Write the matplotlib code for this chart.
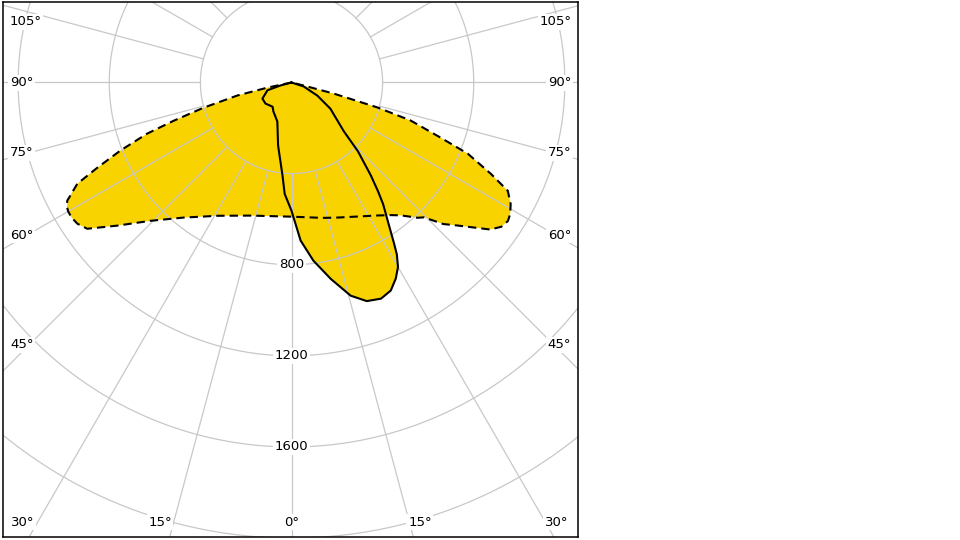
import numpy as np
import matplotlib.pyplot as plt

# luminous intensity (cd), angle in degrees from nadir; negative = left half
c0_angle = [-90, -75, -72, -61, -51, -38, -32, -20, -12, -5.5, -3.5, 0,
            3.3, 7, 11.3, 15.5, 19, 22.5, 25.5, 28, 30, 31.5, 32.5, 34.5, 37,
            38.5, 40.5, 44, 47, 56, 63, 72, 90]
c0_cd = [0, 50, 111, 146, 147, 135, 150, 182, 283, 411, 490, 563,
         695, 788, 879, 971, 1015, 1027, 1012, 975, 935, 885, 838, 752, 668,
         610, 536, 420, 314, 206, 128, 56, 0]

c90_angle = [-90, -78, -76.5, -74, -72, -70.5, -68.3, -66.3, -64.7, -62.2, -61,
             -60, -58.5, -56.6, -54.4, -50.6, -45.6, -38.7, -29, -17, 0, 13, 19,
             33, 37, 39.5, 43, 44.5, 47, 49.3, 53.5, 55.5, 57.4, 59, 61, 63.4,
             65.4, 68, 69.7, 72.3, 73.8, 75.3, 76, 90]
c90_cd = [0, 108, 244, 402, 545, 672, 809, 931, 1040, 1113, 1127,
          1132, 1133, 1126, 1103, 990, 868, 760, 669, 611, 589, 610, 627,
          696, 729, 756, 812, 830, 911, 963, 1085, 1118, 1128, 1120, 1100, 1062,
          962, 835, 698, 549, 394, 191, 54, 0]

rings = [400, 800, 1200, 1600, 2000, 2400]
ring_labels = ['800', '1200', '1600']
spokes = np.arange(-180, 181, 15)

side_labels = ['105°', '90°', '75°', '60°', '45°']
side_y = [0.963, 0.849, 0.718, 0.564, 0.359]
bottom_labels = ['30°', '15°', '0°', '15°', '30°']
bottom_x = [0.035, 0.273, 0.502, 0.725, 0.963]

yellow = '#F9D300'
grey = '#c8c8c8'


def to_xy(angle, cd):
    g = np.radians(angle)
    cd = np.asarray(cd, dtype=float)
    return cd * np.sin(g), -cd * np.cos(g)


fig = plt.figure(figsize=(9.6, 5.4), dpi=100)
ax = fig.add_axes([3 / 960, 3 / 540, 575 / 960, 535 / 540])

x0, y0 = to_xy(c0_angle, c0_cd)
x90, y90 = to_xy(c90_angle, c90_cd)
ax.fill(x90, y90, color=yellow, lw=0, zorder=1)
ax.fill(x0, y0, color=yellow, lw=0, zorder=1)

t = np.linspace(0, 2 * np.pi, 721)
for r in rings:
    ax.plot(r * np.cos(t), r * np.sin(t), color=grey, lw=0.9, zorder=2)
for a in spokes:
    g = np.radians(a)
    ax.plot([400 * np.sin(g), 3000 * np.sin(g)], [-400 * np.cos(g), -3000 * np.cos(g)],
            color=grey, lw=0.9, zorder=2)

ax.plot(x90, y90, color='black', lw=1.5, ls=(0, (4, 2.4)), zorder=4,
        solid_joinstyle='round')
ax.plot(x0, y0, color='black', lw=1.5, zorder=4, solid_joinstyle='round')

fs = 9.5
box = dict(boxstyle='square,pad=0.12', fc='white', ec='none')
for lab in ring_labels:
    ax.text(0, -float(lab), lab, ha='center', va='center', fontsize=fs,
            bbox=box, zorder=3)
for lab, yy in zip(side_labels, side_y):
    ax.text(0.012, yy, lab, ha='left', va='center', fontsize=fs,
            transform=ax.transAxes, bbox=box, zorder=3)
    ax.text(0.988, yy, lab, ha='right', va='center', fontsize=fs,
            transform=ax.transAxes, bbox=box, zorder=3)
for lab, xx in zip(bottom_labels, bottom_x):
    ax.text(xx, 0.028, lab, ha='center', va='center', fontsize=fs,
            transform=ax.transAxes, bbox=box, zorder=3)

k = 4.39
ax.set_xlim((3 - 291.5) * k, (578 - 291.5) * k)
ax.set_ylim((82.5 - 537) * k, (82.5 - 2) * k)
ax.set_xticks([])
ax.set_yticks([])
for s in ax.spines.values():
    s.set_linewidth(1.1)
    s.set_color('black')

fig.savefig('out.png', dpi=100)
